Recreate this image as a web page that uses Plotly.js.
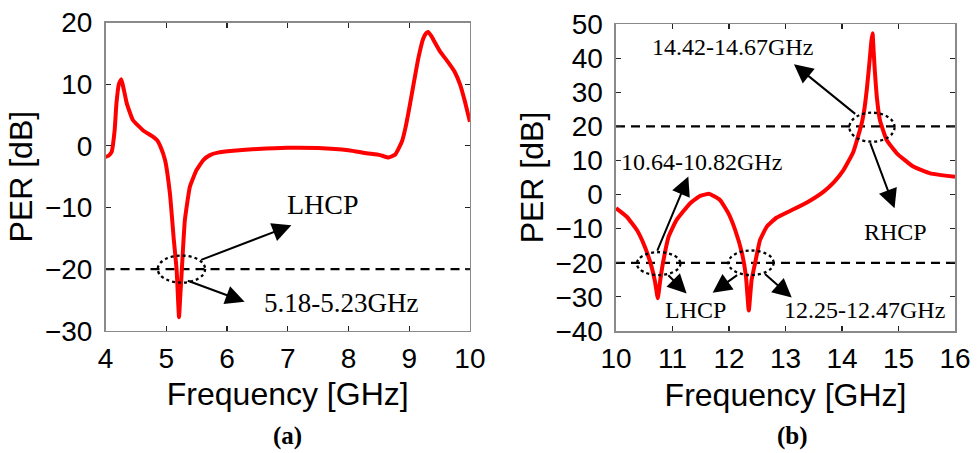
<!DOCTYPE html>
<html>
<head>
<meta charset="utf-8">
<script src="https://cdn.plot.ly/plotly-3.0.1.min.js"></script>
<style>html,body{margin:0;padding:0;background:#fff;}#chart{width:977px;height:453px;}</style>
</head>
<body>
<div id="chart"></div>
<script>
// ---- data: panel (a) ----
const freqA = [4.00,4.05,4.10,4.15,4.18,4.22,4.26,4.30,4.35,4.45,4.62,4.78,4.85,4.90,4.98,5.06,5.125,5.17,5.19,5.21,5.23,5.257,5.306,5.39,5.50,5.61,5.72,5.85,6.10,6.50,7.00,7.50,8.00,8.30,8.52,8.66,8.77,8.88,8.94,8.99,9.07,9.15,9.23,9.28,9.31,9.36,9.40,9.51,9.64,9.75,9.84,9.92,10.00];
const perA  = [-1.8,-1.6,-1.0,2.5,6.9,10.0,10.8,9.2,6.9,4.2,2.5,1.5,0.9,0.0,-2.3,-7.7,-15.3,-20.0,-24.0,-27.8,-24.5,-20.0,-12.1,-6.6,-3.9,-2.3,-1.5,-1.1,-0.8,-0.5,-0.3,-0.35,-0.7,-1.2,-1.5,-1.9,-1.4,0.7,3.0,5.5,9.9,14.2,17.4,18.3,18.5,17.9,17.2,15.3,13.6,12.0,9.9,7.1,3.9];
// ---- data: panel (b) ----
const freqB = [10.00,10.19,10.37,10.51,10.63,10.69,10.74,10.78,10.83,10.93,11.07,11.31,11.49,11.65,11.84,11.99,12.11,12.23,12.30,12.35,12.40,12.46,12.55,12.67,12.84,13.08,13.38,13.67,13.85,14.02,14.20,14.35,14.40,14.44,14.47,14.50,14.52,14.54,14.56,14.58,14.62,14.67,14.79,14.97,15.26,15.56,16.00];
const perB  = [-4.0,-6.5,-10.4,-15.3,-21.2,-25.5,-30.4,-25.5,-20.2,-12.4,-7.5,-2.6,-0.4,0.2,-1.6,-5.5,-10.4,-17.2,-24.0,-34.0,-25.0,-20.2,-13.3,-9.4,-6.8,-4.8,-2.3,0.8,3.5,7.0,12.5,21.0,25.5,31.0,36.0,41.4,45.0,47.3,42.0,36.5,28.0,21.9,16.0,12.1,8.2,6.2,5.2];
// thresholds
const threshA = [-20];
const threshB = [-20, 20];
const rangeA = [4, 10];
const rangeB = [10, 16];
const yRangeA = [-30, 20];
const yRangeB = [-40, 50];

const RED = '#ff0000';
const sans = 'Liberation Sans, Arial, sans-serif';
const serif = 'Liberation Serif, Times New Roman, serif';

const traces = [];
threshA.forEach(t => traces.push({x: rangeA, y: [t, t], xaxis: 'x', yaxis: 'y', mode: 'lines',
  line: {color: '#000', width: 2.3, dash: '9px,6px'}, hoverinfo: 'skip', showlegend: false}));
threshB.forEach(t => traces.push({x: rangeB, y: [t, t], xaxis: 'x2', yaxis: 'y2', mode: 'lines',
  line: {color: '#000', width: 2.3, dash: '9px,6px'}, hoverinfo: 'skip', showlegend: false}));
traces.push({x: freqA, y: perA, xaxis: 'x', yaxis: 'y', mode: 'lines', line: {color: RED, width: 4, shape: 'spline', smoothing: 0.4}, showlegend: false});
traces.push({x: freqB, y: perB, xaxis: 'x2', yaxis: 'y2', mode: 'lines', line: {color: RED, width: 4, shape: 'spline', smoothing: 0.4}, showlegend: false});

function axis(range, dtick, domain, anchor, isY) {
  return {
    range: range, dtick: dtick, tick0: range[0], domain: domain, anchor: anchor,
    showgrid: false, zeroline: false, showline: true, mirror: 'ticks',
    linecolor: '#8a8a8a', linewidth: 1.5, ticks: 'inside', ticklen: 5, tickwidth: 1.2, tickcolor: '#222',
    tickfont: {family: sans, size: 28, color: '#000'},
    ticklabelstandoff: isY ? 6 : 2,
    automargin: false
  };
}

const titleFont = {family: sans, size: 32, color: '#000'};
const xa = axis(rangeA, 1, [0.108, 0.481], 'y', false);
xa.title = {text: 'Frequency [GHz]', font: titleFont, standoff: 10};
const ya = axis(yRangeA, 10, [0.270, 0.950], 'x', true);
ya.title = {text: 'PER [dB]', font: titleFont, standoff: 2};
const xb = axis(rangeB, 1, [0.6305, 0.9775], 'y2', false);
xb.title = {text: 'Frequency [GHz]', font: titleFont, standoff: 10};
const yb = axis(yRangeB, 10, [0.2693, 0.947], 'x2', true);
yb.title = {text: 'PER [dB]', font: titleFont, standoff: 2};

const ell = (xr, x0, x1, y0, y1) => ({type: 'circle', xref: xr, yref: xr === 'x' ? 'y' : 'y2',
  x0: x0, x1: x1, y0: y0, y1: y1, line: {color: '#000', width: 2.3, dash: 'dot'}});
const shapes = [
  ell('x', 4.86, 5.64, -22.2, -17.8),
  ell('x2', 10.37, 11.14, -23.6, -16.9),
  ell('x2', 11.99, 12.79, -23.6, -16.4),
  ell('x2', 14.13, 14.93, 15.5, 24.0)
];

const arr = (xr, ax, ay, x, y) => ({xref: xr, yref: xr === 'x' ? 'y' : 'y2', axref: xr, ayref: xr === 'x' ? 'y' : 'y2',
  x: x, y: y, ax: ax, ay: ay, text: '', showarrow: true, arrowhead: 2, arrowsize: 1.9, arrowwidth: 2,
  arrowcolor: '#000', standoff: 0, startstandoff: 0});
const txt = (xr, x, y, t, size) => ({xref: xr, yref: xr === 'x' ? 'y' : 'y2', x: x, y: y, text: t,
  showarrow: false, font: {family: serif, size: size, color: '#000'}});

const annotations = [
  arr('x', 5.55, -18.6, 7.06, -12.9),
  arr('x', 5.33, -21.8, 6.29, -25.3),
  txt('x', 7.58, -9.5, 'LHCP', 28),
  txt('x', 7.87, -25.5, '5.18-5.23GHz', 27),
  arr('x2', 10.72, -16.9, 11.28, 5.3),
  arr('x2', 10.90, -23.2, 11.25, -29.0),
  arr('x2', 12.17, -23.3, 11.71, -28.8),
  arr('x2', 12.61, -22.9, 13.11, -30.2),
  arr('x2', 14.26, 23.3, 13.15, 38.2),
  arr('x2', 14.49, 15.5, 14.93, -4.0),
  txt('x2', 12.06, 43.4, '14.42-14.67GHz', 24),
  txt('x2', 11.52, 9.6, '10.64-10.82GHz', 24),
  txt('x2', 11.41, -33.8, 'LHCP', 24),
  txt('x2', 14.39, -33.8, '12.25-12.47GHz', 24),
  txt('x2', 14.94, -10.9, 'RHCP', 24),
  {xref: 'paper', yref: 'paper', x: 287/977, y: 1 - 436/453, xanchor: 'center', yanchor: 'middle',
   text: '<b>(a)</b>', showarrow: false, font: {family: serif, size: 25, color: '#000'}},
  {xref: 'paper', yref: 'paper', x: 792/977, y: 1 - 436/453, xanchor: 'center', yanchor: 'middle',
   text: '<b>(b)</b>', showarrow: false, font: {family: serif, size: 25, color: '#000'}}
];

const layout = {
  width: 977, height: 453, margin: {l: 0, r: 0, t: 0, b: 0},
  paper_bgcolor: '#fff', plot_bgcolor: '#fff', showlegend: false,
  xaxis: xa, yaxis: ya, xaxis2: xb, yaxis2: yb,
  shapes: shapes, annotations: annotations
};
Plotly.newPlot('chart', traces, layout, {displayModeBar: false, staticPlot: true});
</script>
</body>
</html>
